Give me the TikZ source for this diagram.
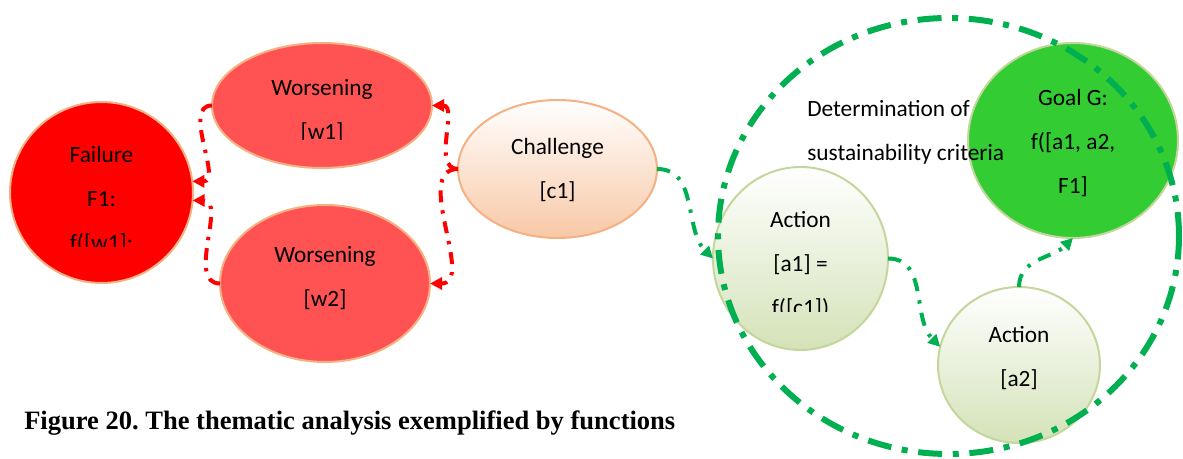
\documentclass[tikz,border=0pt]{standalone}
\usepackage{fontspec}
\setmainfont{Carlito}
\newfontfamily\capfont{Liberation Serif}
\usetikzlibrary{shapes.geometric,arrows.meta}

\definecolor{rimpeach}{HTML}{F4B183}
\definecolor{softpeach}{HTML}{F8C8A6}
\definecolor{failred}{HTML}{FF0000}
\definecolor{worsered}{HTML}{FF5353}
\definecolor{rimgreen}{HTML}{C3D69B}
\definecolor{softgreen}{HTML}{D4E2B8}
\definecolor{goalgreen}{HTML}{33CC33}
\definecolor{linkred}{HTML}{FF0000}
\definecolor{linkgreen}{HTML}{00B050}

\begin{document}
\frenchspacing
\begin{tikzpicture}[x=0.75pt,y=0.75pt,
  bubble/.style={ellipse,inner sep=0pt,outer sep=0pt,line width=1.5pt},
  lbl/.style={align=center,anchor=base,inner sep=0pt,
    font=\fontsize{17.5pt}{33pt}\selectfont},
  tip/.style={-{Triangle[length=9pt,width=9pt]}},
  redlink/.style={tip,draw=linkred,line width=3pt,
    dash pattern=on 9pt off 6pt on 2.5pt off 6pt},
  greenlink/.style={tip,draw=linkgreen,line width=3pt,
    dash pattern=on 10pt off 7pt on 2.5pt off 7pt},
  frame/.style={draw=linkgreen,line width=4.5pt,
    dash pattern=on 18pt off 8pt on 4.5pt off 8pt}]
\useasboundingbox (0,0) rectangle (1183,-459);

% bubbles
\node[bubble,draw=rimpeach,fill=failred,minimum width=137.25pt,minimum height=135.75pt] (fail) at (101.5,-192.5) {};
\node[bubble,draw=rimpeach,fill=worsered,minimum width=165pt,minimum height=93.75pt] (w1) at (322,-105.5) {};
\node[bubble,draw=rimpeach,fill=worsered,minimum width=157.5pt,minimum height=117.75pt] (w2) at (325,-283.5) {};
\node[bubble,draw=rimpeach,top color=white,bottom color=softpeach,minimum width=149.25pt,minimum height=103.5pt] (chal) at (557.5,-169) {};
\node[bubble,draw=rimgreen,top color=white,bottom color=softgreen,minimum width=131.25pt,minimum height=137.25pt] (a1) at (800.5,-258.5) {};
\node[bubble,draw=rimgreen,top color=white,bottom color=softgreen,minimum width=121.5pt,minimum height=117pt] (a2) at (1019,-365) {};
\node[bubble,draw=rimgreen,fill=goalgreen,minimum width=157.5pt,minimum height=146.25pt] (goal) at (1073,-140.5) {};

% labels (anchored at the baseline of their last line; text boxes cut off at their lower edge)
\begin{scope}
  \clip (0,-90) rectangle (200,-247);
  \node[lbl] (failtxt) at (101.5,-251) {Failure\\F1:\\f([w1];};
\end{scope}
\begin{scope}
  \clip (200,-50) rectangle (440,-140);
  \node[lbl] (w1txt) at (322,-140) {Worsening\\{[w1]}};
\end{scope}
\node[lbl] (w2txt) at (325,-307) {Worsening\\{[w2]}};
\node[lbl] (chaltxt) at (557.5,-198.5) {Challenge\\{[c1]}};
\begin{scope}
  \clip (700,-190) rectangle (900,-312);
  \node[lbl] (a1txt) at (800.5,-316) {Action\\{[a1] =}\\f([c1])};
\end{scope}
\node[lbl] (a2txt) at (1019,-387) {Action\\{[a2]}};
\node[lbl] (goaltxt) at (1073,-194) {Goal G:\\f([a1, a2,\\F1]};
\node[lbl,align=left,anchor=base west] (crit) at (807,-161) {Determination of\\sustainability criteria};

% connectors
\draw[redlink] (w1.west) to[out=180,in=0] (fail.7);
\draw[redlink] (w2.west) to[out=180,in=0] (fail.-5);
\draw[redlink] (chal.west) to[out=180,in=0] (w1.east);
\draw[redlink] (chal.west) to[out=180,in=0] (w2.east);
\draw[greenlink] (chal.east) to[out=0,in=135] (a1.west);
\draw[greenlink] (a1.east) to[out=0,in=135] (a2.167);
\draw[greenlink] (a2.north) to[out=90,in=-135] (goal.south);

% boundary of the sustainability criteria
\node[bubble,frame,minimum width=345.75pt,minimum height=327pt] (scope) at (948.5,-236) {};

% caption
\node[anchor=base west,inner sep=0pt,font=\capfont\bfseries\fontsize{19.9pt}{22pt}\selectfont] (caption) at (24,-429.5) {Figure 20. The thematic analysis exemplified by functions};
\end{tikzpicture}
\end{document}
